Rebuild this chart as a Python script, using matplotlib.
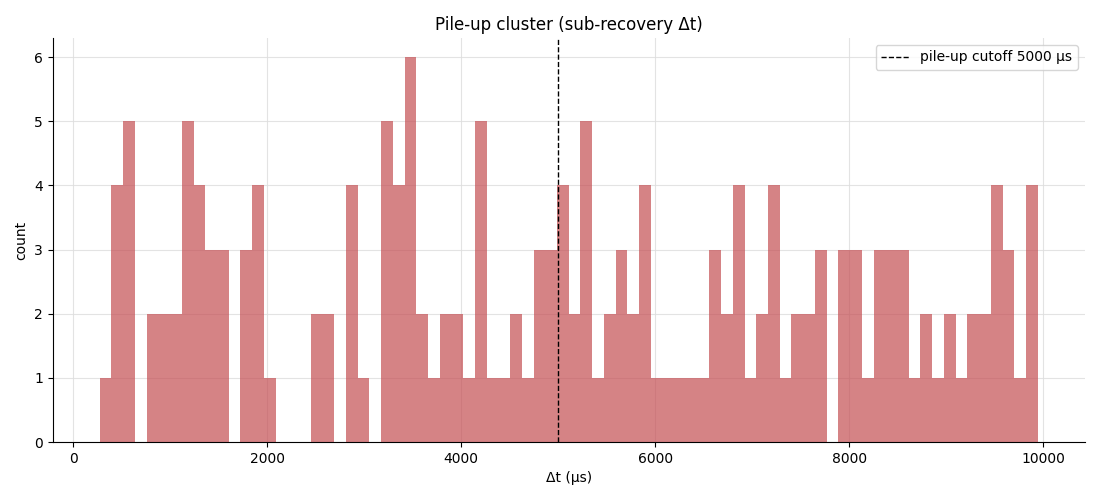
import numpy as np
import matplotlib
matplotlib.use("Agg")
import matplotlib.pyplot as plt

# Histogram of Δt values (µs): 80 bins between min and max
dt_min = 275.0
dt_max = 9942.0
n_bins = 80
counts = [1, 4, 5, 0, 2, 2, 2, 5, 4, 3,
          3, 0, 3, 4, 1, 0, 0, 0, 2, 2,
          0, 4, 1, 0, 5, 4, 6, 2, 1, 2,
          2, 1, 5, 1, 1, 2, 1, 3, 3, 4,
          2, 5, 1, 2, 3, 2, 4, 1, 1, 1,
          1, 1, 3, 2, 4, 1, 2, 4, 1, 2,
          2, 3, 0, 3, 3, 1, 3, 3, 3, 1,
          2, 1, 2, 1, 2, 2, 4, 3, 1, 4]
cutoff = 5000

edges = np.linspace(dt_min, dt_max, n_bins + 1)
centers = (edges[:-1] + edges[1:]) / 2

fig = plt.figure(figsize=(11, 5), dpi=100)
ax = fig.add_axes([0.048, 0.116, 0.938, 0.808])
ax.hist(centers, bins=edges, weights=counts, color="#c44e52", alpha=0.7,
        histtype="stepfilled", linewidth=0)
ax.axvline(cutoff, color="black", linestyle="--", linewidth=1,
           label=f"pile-up cutoff {cutoff} µs")
ax.grid(True, color="#dddddd", linewidth=0.8, alpha=0.8)
ax.set_axisbelow(True)
ax.spines["top"].set_visible(False)
ax.spines["right"].set_visible(False)
ax.set_title("Pile-up cluster (sub-recovery Δt)", fontsize=12)
ax.set_xlabel("Δt (µs)")
ax.set_ylabel("count")
ax.legend(loc="upper right")
fig.savefig("out.png", dpi=100)
